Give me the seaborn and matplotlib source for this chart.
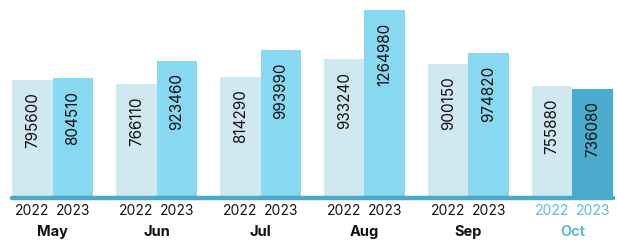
import pandas as pd
import matplotlib
matplotlib.use("Agg")
import matplotlib.pyplot as plt
import matplotlib.transforms as mtransforms
import seaborn as sns

months = ["May", "Jun", "Jul", "Aug", "Sep", "Oct"]
years = ["2022", "2023"]
values_2022 = [795600, 766110, 814290, 933240, 900150, 755880]
values_2023 = [804510, 923460, 993990, 1264980, 974820, 736080]

df = pd.DataFrame({
    "month": months * 2,
    "year": ["2022"] * len(months) + ["2023"] * len(months),
    "value": values_2022 + values_2023,
})

sns.set_style("white")
plt.rcParams["font.family"] = ["Inter", "DejaVu Sans"]

c22 = "#d0e9f1"
c23 = "#88d8f2"
c_hi = "#4aabcc"
c_text_hi = "#5bbcdb"

fig = plt.figure(figsize=(6.17, 2.42), dpi=100)
ax = fig.add_axes([12 / 617, 44 / 242, 601 / 617, 198 / 242])

sns.barplot(data=df, x="month", y="value", hue="year", order=months,
            hue_order=years, palette=[c22, c23], width=0.78,
            saturation=1, legend=False, linewidth=0, ax=ax)

# highlight last month (2023 bar)
bars_2023 = ax.containers[1]
bars_2023[-1].set_facecolor(c_hi)

# value labels inside the top of each bar
for cont in ax.containers:
    for rect, v in zip(cont, cont.datavalues):
        rect.set_edgecolor("none")
        x = rect.get_x() + rect.get_width() / 2
        ax.annotate(f"{int(v)}", (x, v), xytext=(0, -9),
                    textcoords="offset points", rotation=90,
                    ha="center", va="top", fontsize=11, color="#111111")

ax.set_xlim(-0.39, len(months) - 1 + 0.39)
ax.set_ylim(0, 1332300)
ax.axhline(0, color="#4aa8c8", lw=3.2, clip_on=False, zorder=5)

ax.set_xticks([])
ax.set_yticks([])
ax.set_xlabel("")
ax.set_ylabel("")
sns.despine(ax=ax, left=True, bottom=True)

trans = mtransforms.blended_transform_factory(ax.transData, fig.transFigure)
for i, m in enumerate(months):
    col = c_text_hi if m == "Oct" else "#111111"
    for j, y in enumerate(years):
        x = i + (j - 0.5) * 0.39
        ax.text(x, 1 - 211 / 242, y, transform=trans, ha="center", va="center",
                fontsize=10, color=col)
    ax.text(i, 1 - 232 / 242, m, transform=trans, ha="center", va="center",
            fontsize=10.5, fontweight="bold", color=col)

fig.savefig("out.png", dpi=100)
